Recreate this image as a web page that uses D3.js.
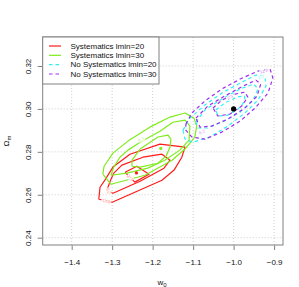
<!DOCTYPE html>
<html>
<head>
<meta charset="utf-8">
<script src="https://cdn.jsdelivr.net/npm/d3@7"></script>
<style>
  body { margin: 0; background: #fff; }
  text { font-family: "Liberation Sans", Arial, sans-serif; }
</style>
</head>
<body>
<div id="main"></div>
<script>

// data: contour vertices as [w0, Omega_m]

const seriesNames = ['Systematics lmin=20', 'Systematics lmin=30', 'No Systematics lmin=20', 'No Systematics lmin=30'];

const xTicks = [-1.4, -1.3, -1.2, -1.1, -1.0, -0.9];
const yTicks = [0.24, 0.26, 0.28, 0.30, 0.32];

// Systematics lmin=20 (red)
const redContours = [
    [[-1.268, .2705], [-1.239, .2733], [-1.209, .2696], [-1.244, .2659], [-1.268, .2705]],
    [[-1.313, .2621], [-1.305, .2663], [-1.296, .2701], [-1.276, .2738], [-1.224, .2775], [-1.177, .2789],
     [-1.157, .2761], [-1.172, .2724], [-1.231, .2663], [-1.298, .2607], [-1.313, .2621]],
    [[-1.333, .2579], [-1.330, .2635], [-1.318, .2668], [-1.298, .2729], [-1.256, .2789], [-1.182, .2836],
     [-1.120, .2822], [-1.128, .2775], [-1.147, .2715], [-1.177, .2668], [-1.244, .2612], [-1.300, .2565], [-1.333, .2579]]
];

// Systematics lmin=30 (green)
const greenContours = [
    [[-1.251, .2733], [-1.251, .2761], [-1.231, .2813], [-1.187, .2869], [-1.162, .2878], [-1.155, .2859],
     [-1.157, .2822], [-1.167, .2780], [-1.187, .2747], [-1.231, .2729], [-1.251, .2733]],
    [[-1.303, .2691], [-1.296, .2729], [-1.281, .2775], [-1.261, .2808], [-1.231, .2845], [-1.182, .2896],
     [-1.150, .2938], [-1.120, .2948], [-1.108, .2920], [-1.110, .2855], [-1.133, .2808], [-1.170, .2761],
     [-1.212, .2724], [-1.263, .2701], [-1.303, .2691]],
    [[-1.323, .2696], [-1.320, .2733], [-1.298, .2794], [-1.261, .2850], [-1.207, .2915], [-1.157, .2962],
     [-1.120, .2981], [-1.098, .2957], [-1.091, .2920], [-1.096, .2869], [-1.118, .2817], [-1.152, .2761],
     [-1.219, .2691], [-1.303, .2649], [-1.323, .2696]]
];

// No Systematics lmin=20 (cyan)
const cyanContours = [
    [[-1.044, .2995], [-1.022, .3027], [-0.992, .3055], [-0.973, .3060], [-0.972, .3037], [-0.989, .2999],
     [-1.015, .2971], [-1.039, .2967], [-1.044, .2995]],
    [[-1.093, .2938], [-1.071, .2995], [-1.029, .3046], [-0.984, .3093], [-0.950, .3116], [-0.940, .3093],
     [-0.952, .3041], [-0.984, .2985], [-1.024, .2943], [-1.064, .2911], [-1.088, .2911], [-1.093, .2938]],
    [[-1.125, .2901], [-1.108, .2957], [-1.071, .3018], [-1.029, .3074], [-0.984, .3120], [-0.945, .3158],
     [-0.923, .3153], [-0.920, .3106], [-0.940, .3041], [-0.972, .2981], [-1.014, .2920], [-1.059, .2869],
     [-1.101, .2845], [-1.120, .2859], [-1.125, .2901]]
];

// No Systematics lmin=30 (purple)
const purpleContours = [
    [[-1.051, .3004], [-1.029, .3041], [-0.997, .3069], [-0.972, .3078], [-0.965, .3055], [-0.980, .3013],
     [-1.009, .2976], [-1.039, .2967], [-1.051, .3004]],
    [[-1.093, .2957], [-1.064, .3013], [-1.022, .3060], [-0.977, .3106], [-0.945, .3134], [-0.933, .3116],
     [-0.942, .3060], [-0.972, .3004], [-1.014, .2953], [-1.054, .2920], [-1.083, .2915], [-1.093, .2957]],
    [[-1.118, .2929], [-1.103, .2981], [-1.071, .3037], [-1.029, .3093], [-0.984, .3139], [-0.940, .3176],
     [-0.910, .3186], [-0.903, .3144], [-0.915, .3074], [-0.947, .3004], [-0.984, .2943], [-1.029, .2892],
     [-1.071, .2859], [-1.103, .2869], [-1.118, .2901], [-1.118, .2929]]
];

// best-fit points
const bestFits = [[-1.24, 0.2702], [-1.18, 0.2816], [-1.0, 0.300]];

// contour labels [w0, Om, text, series]
const contourLabels = [
    [-1.256, .2680, '2.3', 0], [-1.309, .2617, '6.2', 0], [-1.315, .2571, '11.8', 0],
    [-1.229, .2858, '6.2', 1],
    [-1.009, .3055, '2.3', 3], [-1.078, .2893, '6.2', 3], [-0.925, .3177, '11.8', 3], [-0.932, .3148, '6.2', 2]
];
const labelAngles = [45, 70, 12, -25, -30, -25, -15, -20];


const w = 299;
const h = 287;

const colors = ['#ff1a1a', '#7fec1c', '#2ef2f2', '#a02cf0'];
const dashed = [false, false, true, true];

const svg = d3.select('#main').append('svg').attr('width', w).attr('height', h);

const x = d3.scaleLinear().domain([-1.4716, -0.8780]).range([42.7, 283]);
const y = d3.scaleLinear().domain([0.2366, 0.3335]).range([245, 37]);

// grid
svg.append('g').selectAll('line').data(xTicks).enter().append('line')
    .attr('x1', d => x(d)).attr('x2', d => x(d)).attr('y1', 37).attr('y2', 245)
    .attr('stroke', '#c8c8c8').attr('stroke-width', 0.9).attr('stroke-dasharray', '1,2');
svg.append('g').selectAll('line').data(yTicks).enter().append('line')
    .attr('y1', d => y(d)).attr('y2', d => y(d)).attr('x1', 42.7).attr('x2', 283)
    .attr('stroke', '#c8c8c8').attr('stroke-width', 0.9).attr('stroke-dasharray', '1,2');

// contours
const line = d3.line().x(d => x(d[0])).y(d => y(d[1]));
const allContours = [redContours, greenContours, cyanContours, purpleContours];

allContours.forEach((set, i) => {
    svg.append('g').selectAll('path').data(set).enter().append('path')
        .attr('d', line)
        .attr('fill', 'none')
        .attr('stroke', colors[i])
        .attr('stroke-width', 1.2)
        .attr('stroke-linejoin', 'round')
        .attr('stroke-dasharray', dashed[i] ? '3.5,3' : null);
});

// contour labels
svg.append('g').selectAll('text').data(contourLabels).enter().append('text')
    .attr('transform', (d, i) => `translate(${x(d[0])},${y(d[1])}) rotate(${labelAngles[i]})`)
    .attr('text-anchor', 'middle').attr('dy', '0.35em')
    .style('font-size', '4.5px')
    .attr('fill', d => colors[d[3]]).attr('fill-opacity', 0.6)
    .attr('stroke', '#fff').attr('stroke-width', 1.5).attr('paint-order', 'stroke')
    .text(d => d[2]);

// best fit points
svg.append('g').selectAll('circle').data(bestFits).enter().append('circle')
    .attr('cx', d => x(d[0])).attr('cy', d => y(d[1]))
    .attr('r', (d, i) => i == 2 ? 2.6 : 1.6)
    .attr('fill', (d, i) => ['#ff1a1a', '#7fec1c', '#000'][i]);

// box
svg.append('rect').attr('x', 42.7).attr('y', 37).attr('width', 283 - 42.7).attr('height', 208)
    .attr('fill', 'none').attr('stroke', '#808080').attr('stroke-width', 1);

// axes
const xAxis = d3.axisBottom(x).tickValues(xTicks).tickSize(4.5).tickPadding(9).tickFormat(d3.format('.1f'));
const gx = svg.append('g').attr('transform', 'translate(0,245.5)').call(xAxis);
gx.select('.domain').remove();
gx.selectAll('line').attr('stroke', '#808080');
gx.selectAll('text').style('font-size', '8px').attr('fill', '#111')
    .style('font-family', '"Liberation Sans", Arial, sans-serif');

const yAxis = d3.axisLeft(y).tickValues(yTicks).tickSize(4.5).tickFormat(d3.format('.2f'));
const gy = svg.append('g').attr('transform', 'translate(42.2,0)').call(yAxis);
gy.select('.domain').remove();
gy.selectAll('line').attr('stroke', '#808080');
gy.selectAll('text')
    .attr('x', null).attr('dy', null)
    .attr('transform', 'translate(-11,0) rotate(-90)')
    .attr('text-anchor', 'middle')
    .style('font-size', '8px').attr('fill', '#111')
    .style('font-family', '"Liberation Sans", Arial, sans-serif');

// axis titles
const xt = svg.append('text').attr('x', 162).attr('y', 284.5).attr('text-anchor', 'middle')
    .style('font-size', '8px').attr('fill', '#111');
xt.append('tspan').text('w');
xt.append('tspan').attr('dy', 2).style('font-size', '6px').text('0');

const yt = svg.append('text').attr('transform', 'translate(8.5,141) rotate(-90)').attr('text-anchor', 'middle')
    .style('font-size', '8px').attr('fill', '#111');
yt.append('tspan').text('Ω');
yt.append('tspan').attr('dy', 2).style('font-size', '6px').text('m');

// legend
const legend = svg.append('g').attr('id', 'legend');
legend.append('rect').attr('x', 42.7).attr('y', 37).attr('width', 159 - 42.7).attr('height', 47)
    .attr('fill', '#fff').attr('stroke', '#808080').attr('stroke-width', 1);

const rowY = d3.scaleLinear().domain([0, 3]).range([46, 74]);

const items = legend.selectAll('g.item').data(seriesNames).enter().append('g').attr('class', 'item')
    .attr('transform', (d, i) => `translate(0,${rowY(i)})`);
items.append('line').attr('x1', 49).attr('x2', 61).attr('y1', 0).attr('y2', 0)
    .attr('stroke', (d, i) => colors[i]).attr('stroke-width', 1.2)
    .attr('stroke-dasharray', (d, i) => dashed[i] ? '3.5,3' : null);
items.append('text').attr('x', 70.5).attr('y', 0).attr('dy', '0.35em')
    .style('font-size', '8px').attr('fill', '#111').text(d => d);

</script>
</body>
</html>
